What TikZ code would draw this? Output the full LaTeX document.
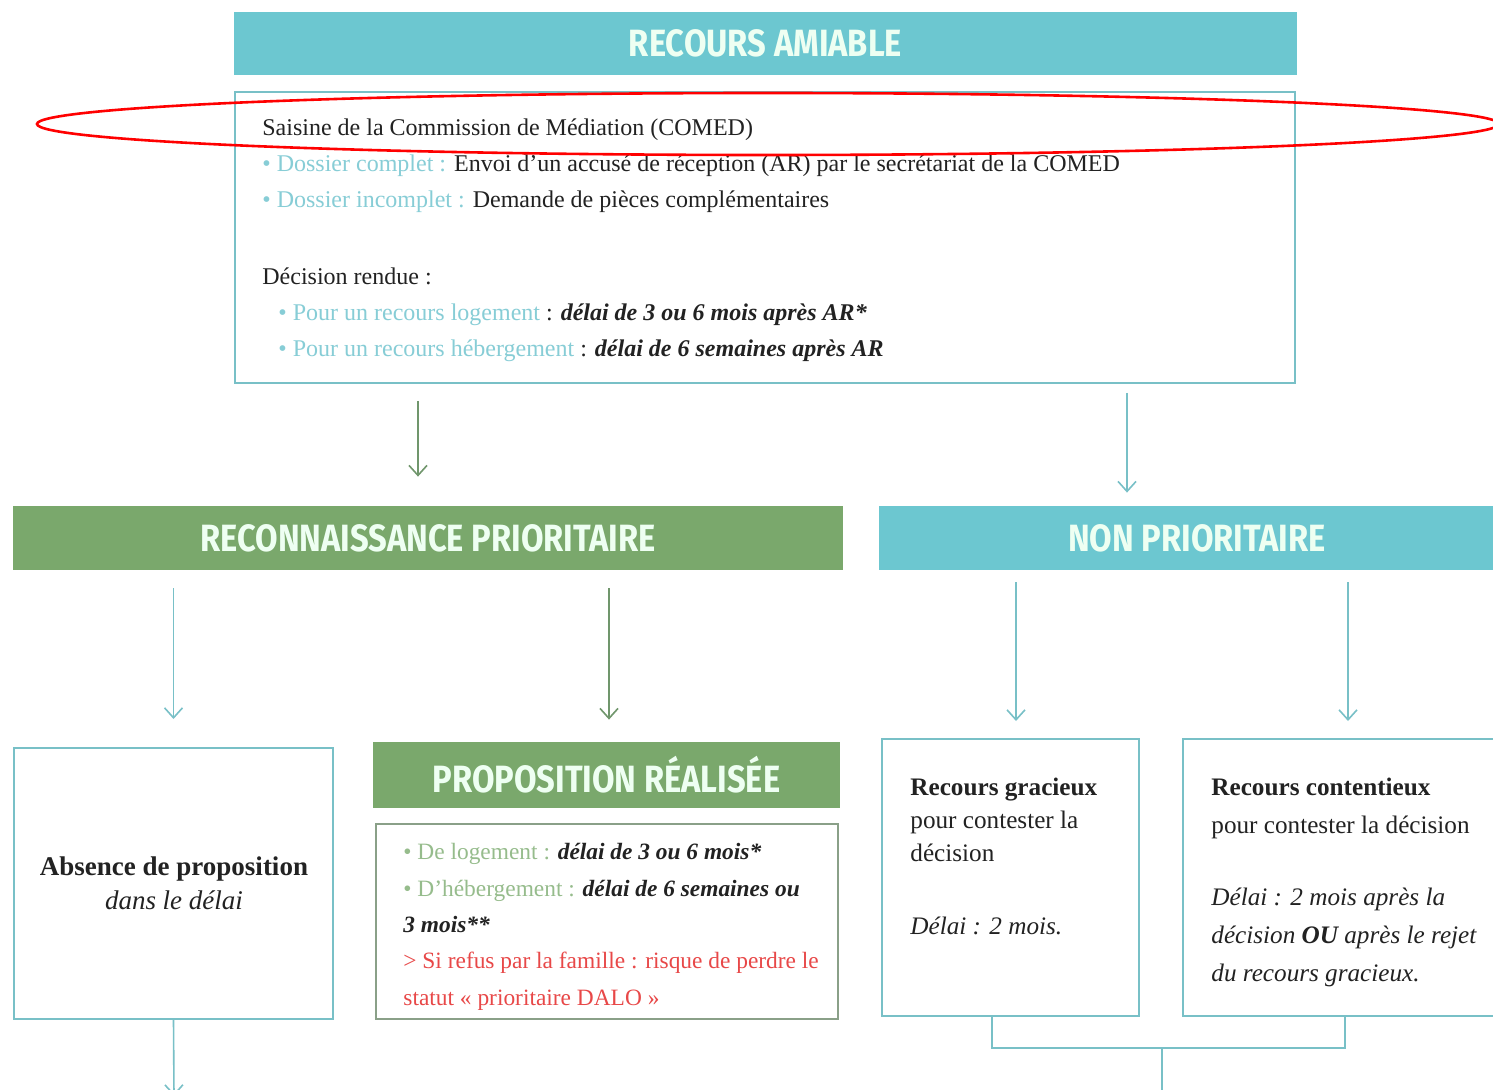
\documentclass[tikz,border=0pt]{standalone}
\usepackage{fontspec}
\setmainfont{Liberation Serif}
\newfontfamily\headfont[FakeStretch=0.86]{Fira Sans}
\usepackage{tikz}
\usetikzlibrary{arrows.meta,shapes.geometric}
\definecolor{tealfill}{RGB}{108,199,208}
\definecolor{greenfill}{RGB}{122,168,108}
\definecolor{tealline}{RGB}{120,192,199}
\definecolor{greenline}{RGB}{138,160,136}
\definecolor{arrgreen}{RGB}{112,150,108}
\definecolor{lightteal}{RGB}{135,205,214}
\definecolor{lightgreen}{RGB}{150,188,140}
\definecolor{redtxt}{RGB}{232,72,72}
\definecolor{headtxt}{RGB}{238,255,242}
\definecolor{bodytxt}{RGB}{34,34,34}

\begin{document}
\begin{tikzpicture}[x=0.5pt, y=-0.5pt,
    bar/.style={fill=#1, draw=none, text=headtxt, inner sep=0pt,
      font=\headfont\bfseries\fontsize{19}{22}\selectfont},
    frame/.style={draw=#1, line width=1pt, fill=white, inner sep=0pt},
    txt/.style={anchor=north west, align=left, inner sep=0pt, text=bodytxt,
      font=\fontsize{12}{18}\selectfont},
    arr/.style={->, draw=#1, line width=0.8pt, >={Straight Barb[length=5pt,width=9pt]}},
    redring/.style={ellipse, draw=red, line width=1.3pt, inner sep=0pt,
      minimum width=731pt, minimum height=31pt}]
      \clip (0,0) rectangle (1493,1090);
      \fill[white] (0,0) rectangle (1493,1090);

      \node [bar=tealfill, minimum width=531.5pt, minimum height=31.5pt] (amiable) at (765.5,43.5) {RECOURS AMIABLE};
      \node [frame=tealline, minimum width=530pt, minimum height=145.5pt] (comed) at (765,237.5) {};
      \node [txt] (comedtxt) at (262,118) {Saisine de la Commission de Médiation (COMED)\\
        \textcolor{lightteal}{• Dossier complet :} Envoi d’un accusé de réception (AR) par le secrétariat de la COMED\\
        \textcolor{lightteal}{• Dossier incomplet :} Demande de pièces complémentaires\\[20.5pt]
        Décision rendue :\\
        \hspace*{8pt}\textcolor{lightteal}{• Pour un recours logement} : \textbf{\textit{délai de 3 ou 6 mois après AR*}}\\
        \hspace*{8pt}\textcolor{lightteal}{• Pour un recours hébergement} : \textbf{\textit{délai de 6 semaines après AR}}};
      \node [redring] (ring) at (768,124) {};

      \node [bar=greenfill, minimum width=415pt, minimum height=32pt] (prio) at (428,538) {RECONNAISSANCE PRIORITAIRE};
      \node [bar=tealfill, minimum width=318pt, minimum height=32pt] (nonprio) at (1197,538) {NON PRIORITAIRE};
      \draw [arr=arrgreen, shorten <=8.5pt, shorten >=14.5pt] ([xshift=-5pt]prio.north |- comed.south) -- ([xshift=-5pt]prio.north);
      \draw [arr=tealline, shorten <=4.5pt, shorten >=6.5pt] ([xshift=-35pt]nonprio.north |- comed.south) -- ([xshift=-35pt]nonprio.north);

      \node [frame=tealline, minimum width=159.5pt, minimum height=135.5pt] (absence) at (173.5,883.5) {};
      \node [text=bodytxt, align=center, inner sep=0pt, font=\fontsize{13.5}{17}\selectfont] (absencetxt) at (174,883)
        {\textbf{Absence de proposition}\\\textit{dans le délai}};
      \draw [arr=tealline, shorten <=9pt, shorten >=14pt] (absence.north |- prio.south) -- (absence.north);

      \node [bar=greenfill, minimum width=233.5pt, minimum height=33pt] (propbar) at (606.5,775) {PROPOSITION RÉALISÉE};
      \node [frame=greenline, minimum width=231pt, minimum height=97.5pt] (propbox) at (607,921.5) {};
      \node [txt, font=\fontsize{11.7}{18.2}\selectfont] (proptxt) at (403,843) {\textcolor{lightgreen}{• De logement :} \textbf{\textit{délai de 3 ou 6 mois*}}\\
        \textcolor{lightgreen}{• D’hébergement :} \textbf{\textit{délai de 6 semaines ou}}\\
        \textbf{\textit{3 mois**}}\\
        \textcolor{redtxt}{> Si refus par la famille : risque de perdre le}\\
        \textcolor{redtxt}{statut « prioritaire DALO »}};
      \draw [arr=arrgreen, shorten <=9pt, shorten >=11pt] ([xshift=1.25pt]propbar.north |- prio.south) -- ([xshift=1.25pt]propbar.north);

      \node [frame=tealline, minimum width=128.5pt, minimum height=138.5pt] (gracieux) at (1010.5,877.5) {};
      \node [txt, font=\fontsize{12.6}{16.5}\selectfont] (gracieuxtxt) at (910,778) {\textbf{Recours gracieux}\\
        pour contester la\\
        décision\\[20pt]
        \textit{Délai : 2 mois.}};
      \node [frame=tealline, minimum width=166pt, minimum height=138.5pt] (contentieux) at (1349,877.5) {};
      \node [txt, font=\fontsize{12.6}{19}\selectfont] (contentieuxtxt) at (1211,778) {\textbf{Recours contentieux}\\
        pour contester la décision\\[17pt]
        \textit{Délai : 2 mois après la}\\
        \textit{décision \textbf{OU} après le rejet}\\
        \textit{du recours gracieux.}};
      \draw [arr=tealline, shorten <=6pt, shorten >=8.5pt] ([xshift=2.75pt]gracieux.north |- nonprio.south) -- ([xshift=2.75pt]gracieux.north);
      \draw [arr=tealline, shorten <=6pt, shorten >=8.5pt] ([xshift=-0.5pt]contentieux.north |- nonprio.south) -- ([xshift=-0.5pt]contentieux.north);

      \coordinate (absout) at (174,1096);
      \coordinate (join) at (1162,1048);
      \coordinate (joinout) at (1162,1095);
      \draw [arr=tealline] (absence.south) -- (absout);
      \draw [tealline, line width=0.8pt] ([xshift=-9.25pt]gracieux.south) |- (join) -| ([xshift=-2pt]contentieux.south);
      \draw [tealline, line width=0.8pt] (join) -- (joinout);
    \end{tikzpicture}
\end{document}
